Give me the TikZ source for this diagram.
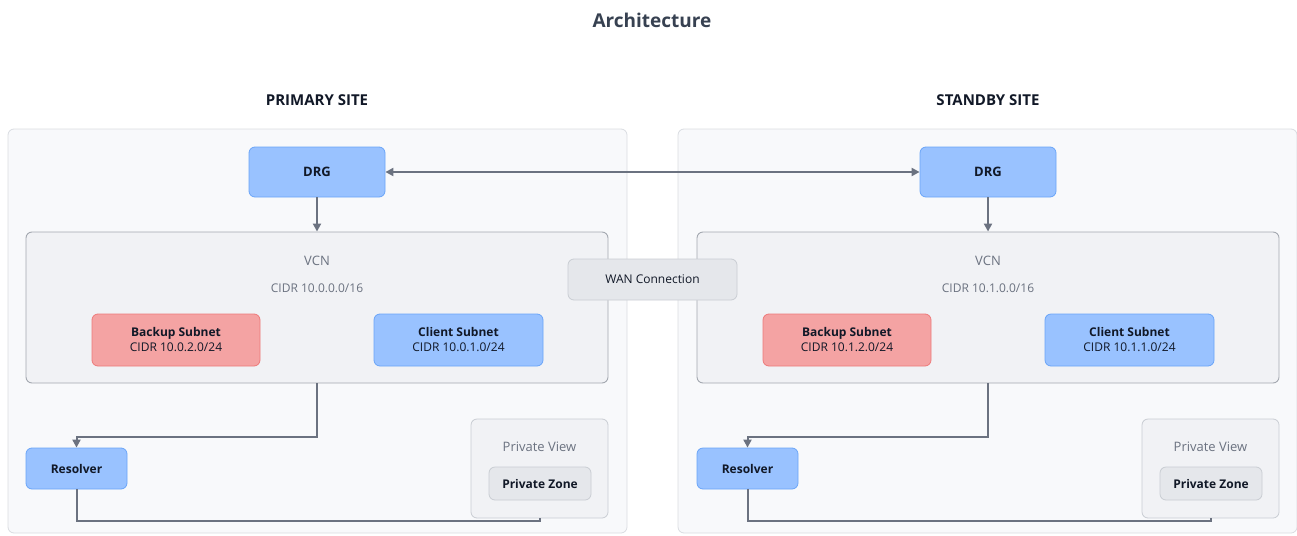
\documentclass[tikz,border=0pt]{standalone}
\usepackage{fontspec}
\setmainfont{Open Sans}
\usetikzlibrary{arrows.meta}

\definecolor{inkdark}{HTML}{111827}
\definecolor{inkgray}{HTML}{6B7280}
\definecolor{linegray}{HTML}{6B7280}
\definecolor{bluefill}{HTML}{99C2FF}
\definecolor{blueline}{HTML}{6AA5F8}
\definecolor{redfill}{HTML}{F4A3A3}
\definecolor{redline}{HTML}{EE7A7A}
\definecolor{grayfill}{HTML}{E5E7EB}
\definecolor{grayline}{HTML}{C9CDD3}
\definecolor{sitefill}{HTML}{F8F9FB}
\definecolor{siteline}{HTML}{D9DCE1}
\definecolor{vcnfill}{HTML}{F1F2F5}
\definecolor{vcnline}{HTML}{A3A8B0}
\definecolor{headink}{HTML}{374151}

\begin{document}
\begin{tikzpicture}[
    x=1pt, y=-1pt,
    every node/.style={font=\fontsize{12}{14}\selectfont, text=inkdark, inner sep=0pt},
    site/.style={draw=siteline, fill=sitefill, rounded corners=6pt, line width=0.8pt},
    vcnbox/.style={draw=vcnline, fill=vcnfill, rounded corners=6pt, line width=0.9pt},
    bluebox/.style={draw=blueline, fill=bluefill, rounded corners=6pt, line width=0.8pt, align=center},
    redbox/.style={draw=redline, fill=redfill, rounded corners=6pt, line width=0.8pt, align=center},
    graybox/.style={draw=grayline, fill=grayfill, rounded corners=6pt, line width=0.8pt, align=center},
    label/.style={text=inkgray, font=\fontsize{13}{15}\selectfont},
    heading/.style={font=\fontsize{15}{18}\selectfont\bfseries, text=inkdark},
    conn/.style={draw=linegray, line width=2pt, -{Triangle[length=8pt,width=8pt]}},
]
    \useasboundingbox (0,0) rectangle (1297,535);

    \node[font=\fontsize{19}{22}\selectfont\bfseries, text=headink] (title) at (652, 20) {Architecture};

    \node[heading] (primtitle) at (317, 100) {PRIMARY SITE};
    \node[heading] (stbytitle) at (988, 100) {STANDBY SITE};

    % site frames
    \node[site, minimum width=619, minimum height=404] (primsite) at (317.5, 331) {};
    \node[site, minimum width=619, minimum height=404] (stbysite) at (987.5, 331) {};

    % primary site
    \node[bluebox, minimum width=136, minimum height=50, font=\fontsize{13}{15}\selectfont\bfseries] (drgp) at (317, 172) {DRG};
    \node[vcnbox, minimum width=582, minimum height=151] (vcnp) at (317, 307.5) {};
    \node[label] (vcnpname) at (317, 261) {VCN};
    \node[label, font=\fontsize{12}{14}\selectfont] (vcnpcidr) at (317, 288) {CIDR 10.0.0.0/16};
    \node[redbox, minimum width=168, minimum height=52] (backupp) at (176, 340) {\textbf{Backup Subnet}\\[1pt]CIDR 10.0.2.0/24};
    \node[bluebox, minimum width=169, minimum height=52] (clientp) at (458.5, 340) {\textbf{Client Subnet}\\[1pt]CIDR 10.0.1.0/24};
    \node[bluebox, minimum width=101, minimum height=41, font=\fontsize{12}{14}\selectfont\bfseries] (resolvp) at (76.5, 468.5) {Resolver};
    \node[graybox, fill=vcnfill, minimum width=137, minimum height=99] (pviewp) at (539.5, 468.5) {};
    \node[label] (pviewpname) at (539.5, 447) {Private View};
    \node[graybox, minimum width=102, minimum height=33, font=\fontsize{12}{14}\selectfont\bfseries] (pzonep) at (540, 483.5) {Private Zone};

    % standby site
    \node[bluebox, minimum width=136, minimum height=50, font=\fontsize{13}{15}\selectfont\bfseries] (drgs) at (988, 172) {DRG};
    \node[vcnbox, minimum width=582, minimum height=151] (vcns) at (988, 307.5) {};
    \node[label] (vcnsname) at (988, 261) {VCN};
    \node[label, font=\fontsize{12}{14}\selectfont] (vcnscidr) at (988, 288) {CIDR 10.1.0.0/16};
    \node[redbox, minimum width=168, minimum height=52] (backups) at (847, 340) {\textbf{Backup Subnet}\\[1pt]CIDR 10.1.2.0/24};
    \node[bluebox, minimum width=169, minimum height=52] (clients) at (1129.5, 340) {\textbf{Client Subnet}\\[1pt]CIDR 10.1.1.0/24};
    \node[bluebox, minimum width=101, minimum height=41, font=\fontsize{12}{14}\selectfont\bfseries] (resolvs) at (747.5, 468.5) {Resolver};
    \node[graybox, fill=vcnfill, minimum width=137, minimum height=99] (pviews) at (1210.5, 468.5) {};
    \node[label] (pviewsname) at (1210.5, 447) {Private View};
    \node[graybox, minimum width=102, minimum height=33, font=\fontsize{12}{14}\selectfont\bfseries] (pzones) at (1211, 483.5) {Private Zone};

    % connectors
    \draw[conn, {Triangle[length=8pt,width=8pt]}-{Triangle[length=8pt,width=8pt]}] (drgp.east) -- (drgs.west);
    \draw[conn] (drgp.south) -- (vcnp.north);
    \draw[conn] (drgs.south) -- (vcns.north);
    \draw[conn] (vcnp.south) -- ++(0,54) -| (resolvp.north);
    \draw[conn] (vcns.south) -- ++(0,54) -| (resolvs.north);
    \draw[conn, -] (resolvp.south) -- ++(0,32) -| (pviewp.south);
    \draw[conn, -] (resolvs.south) -- ++(0,32) -| (pviews.south);

    % WAN label sits over the gap
    \node[graybox, minimum width=169, minimum height=41] (wan) at (652.5, 279.5) {WAN Connection};

\end{tikzpicture}
\end{document}
